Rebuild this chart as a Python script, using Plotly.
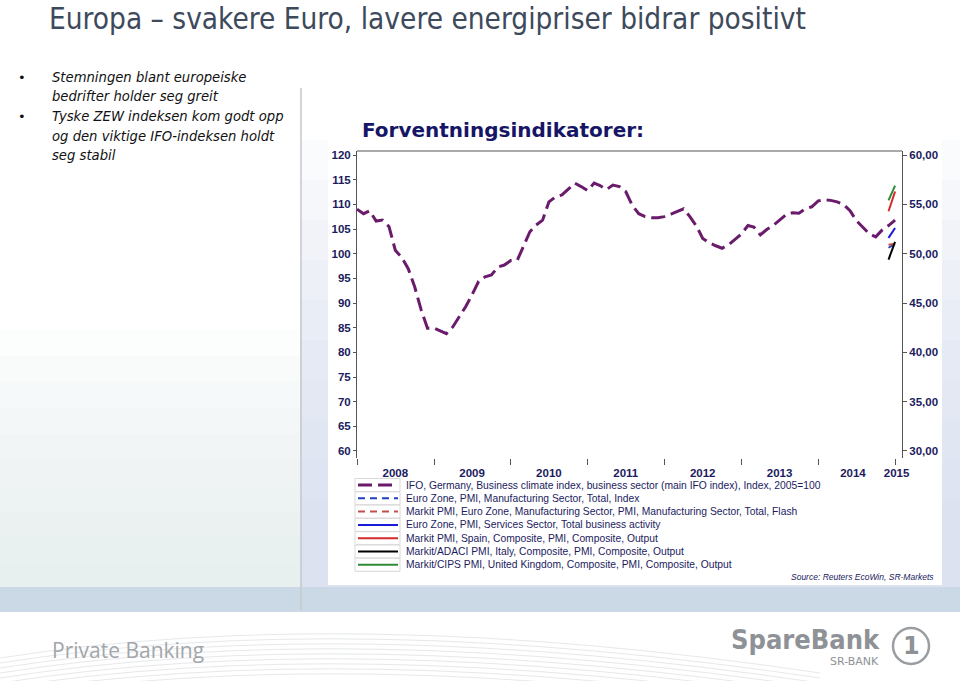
import pandas as pd
import plotly.graph_objects as go

# IFO business climate, monthly Jan 2008 - Jan 2015 (left axis)
ifo_start = "2008-01-01"
ifo_values = [
    109.0, 108.1, 108.7, 106.6, 106.8, 105.5, 100.7, 99.2, 96.9, 93.3, 88.6, 84.9,
    84.9, 84.4, 83.8, 85.2, 87.2, 89.3, 91.7, 94.4, 95.3, 95.7, 97.3, 97.7,
    98.6, 98.7, 101.4, 104.4, 105.8, 106.8, 110.5, 111.5, 111.9, 113.1, 114.3, 113.6,
    112.8, 114.3, 113.8, 113.0, 113.9, 113.6, 112.6, 109.8, 108.1, 107.5, 107.3, 107.3,
    107.5, 108.0, 108.6, 109.1, 107.5, 105.6, 103.1, 102.2, 101.6, 101.1, 101.8, 102.8,
    104.0, 105.7, 105.4, 103.8, 104.9, 105.7, 106.8, 107.9, 108.3, 108.2, 109.1, 109.5,
    110.7, 110.9, 110.8, 110.5, 110.0, 108.7, 106.7, 105.4, 104.0, 103.4, 104.8, 105.7,
    106.8,
]

# PMI readings, Dec 2014 and Jan 2015 (right axis)
pmi_dates = ["2014-12-01", "2015-01-01"]
ez_manufacturing = [50.6, 51.0]
ez_manufacturing_flash = [50.9, 51.0]
ez_services = [51.6, 52.6]
spain_composite = [54.3, 56.3]
italy_composite = [49.4, 51.2]
uk_composite = [55.4, 56.9]

series_names = [
    "IFO, Germany, Business climate index, business sector (main IFO index), Index, 2005=100",
    "Euro Zone, PMI, Manufacturing Sector, Total, Index",
    "Markit PMI, Euro Zone, Manufacturing Sector, PMI, Manufacturing Sector, Total, Flash",
    "Euro Zone, PMI, Services Sector, Total business activity",
    "Markit PMI, Spain, Composite, PMI, Composite, Output",
    "Markit/ADACI PMI, Italy, Composite, PMI, Composite, Output",
    "Markit/CIPS PMI, United Kingdom, Composite, PMI, Composite, Output",
]

year_labels = ["2008", "2009", "2010", "2011", "2012", "2013", "2014", "2015"]
year_label_dates = ["2008-07-01", "2009-07-01", "2010-07-01", "2011-07-01",
                    "2012-07-01", "2013-07-01", "2014-06-15", "2015-01-08"]
left_ticks = list(range(60, 121, 5))
grid_ticks = list(range(65, 116, 5))
right_ticks = list(range(30, 61, 5))

NAVY = "#1b1b5e"
ARIAL = "Liberation Sans, Arial, sans-serif"
VERDANA = "DejaVu Sans, Verdana, sans-serif"

# plot area in page pixels
L, R, T, B = 357, 902, 151, 458
Y_RANGE = [58.58, 120.81]
Y2_RANGE = [(v - 60) / 2 + 30 for v in Y_RANGE]


def px(x):
    return (x - L) / (R - L)


def py(y):
    return (B - y) / (B - T)


ifo_dates = pd.date_range(ifo_start, periods=len(ifo_values), freq="MS")

styles = [
    dict(color="#6b1b6b", width=3, dash="14px,6px"),
    dict(color="#2040c0", width=2, dash="7px,5px"),
    dict(color="#c0504d", width=2, dash="7px,5px"),
    dict(color="#1a1adb", width=2, dash="solid"),
    dict(color="#d42a2a", width=2, dash="solid"),
    dict(color="#000000", width=2, dash="solid"),
    dict(color="#2e8b35", width=2, dash="solid"),
]

fig = go.Figure()
fig.add_trace(go.Scatter(x=ifo_dates, y=ifo_values, mode="lines", name=series_names[0],
                         line=styles[0], yaxis="y", showlegend=False))
pmi_series = [ez_manufacturing, ez_manufacturing_flash, ez_services,
              spain_composite, italy_composite, uk_composite]
for i, vals in enumerate(pmi_series, start=1):
    fig.add_trace(go.Scatter(x=pmi_dates, y=vals, mode="lines", name=series_names[i],
                             line=styles[i], yaxis="y2", showlegend=False))

shapes = []
annotations = []

# soft backgrounds
for k in range(10):
    y0 = 330 + k * 26
    shapes.append(dict(type="rect", xref="paper", yref="paper", layer="below",
                       x0=px(0), x1=px(300), y0=py(588), y1=py(y0),
                       fillcolor="#d6e1ea", opacity=0.08, line_width=0))
for k in range(10):
    y0 = 140 + k * 40
    shapes.append(dict(type="rect", xref="paper", yref="paper", layer="below",
                       x0=px(300), x1=px(960), y0=py(588), y1=py(y0),
                       fillcolor="#cfdce7", opacity=0.1, line_width=0))
shapes.append(dict(type="rect", xref="paper", yref="paper", layer="below",
                   x0=px(0), x1=px(960), y0=py(612), y1=py(587),
                   fillcolor="#cad9e5", line_width=0))
shapes.append(dict(type="rect", xref="paper", yref="paper", layer="below",
                   x0=px(328), x1=px(942), y0=py(585), y1=py(105),
                   fillcolor="white", line_width=0))
shapes.append(dict(type="line", xref="paper", yref="paper", layer="below",
                   x0=px(301), x1=px(301), y0=py(88), y1=py(610),
                   line=dict(color="#c4c8cc", width=1.5)))
# top frame
shapes.append(dict(type="line", xref="paper", yref="paper",
                   x0=0, x1=1, y0=1, y1=1, line=dict(color="#555555", width=1)))

# footer swooshes
for k in range(9):
    a = 628 + k * 5
    shapes.append(dict(type="path", xref="paper", yref="paper", layer="below",
                       path=f"M {px(0)},{py(a + 30)} Q {px(350)},{py(a - 25)} {px(820)},{py(a + 45)}",
                       line=dict(color="#e6e8ea", width=1)))

# legend
for i, name in enumerate(series_names):
    yc = 485 + i * 13.3
    shapes.append(dict(type="rect", xref="paper", yref="paper", layer="below",
                       x0=px(355), x1=px(400), y0=py(yc + 6.5), y1=py(yc - 6.5),
                       line=dict(color="#d8d8d8", width=1), fillcolor="white"))
    shapes.append(dict(type="line", xref="paper", yref="paper",
                       x0=px(358), x1=px(398), y0=py(yc), y1=py(yc),
                       line=dict(color=styles[i]["color"], width=styles[i]["width"],
                                 dash=styles[i]["dash"])))
    annotations.append(dict(text=name, x=px(404), y=py(yc), xref="paper", yref="paper",
                            xanchor="left", yanchor="middle", showarrow=False,
                            font=dict(family=ARIAL, size=10.3, color=NAVY)))

annotations.append(dict(text="Source: Reuters EcoWin, SR-Markets", x=px(936), y=py(577),
                        xref="paper", yref="paper", xanchor="right", yanchor="middle",
                        showarrow=False,
                        font=dict(family=ARIAL, size=8.5, color=NAVY, style="italic")))

annotations.append(dict(text="<b>Forventningsindikatorer:</b>", x=px(360), y=py(130),
                        xref="paper", yref="paper", xanchor="left", yanchor="middle",
                        showarrow=False,
                        font=dict(family=VERDANA, size=20, color="#161666")))

annotations.append(dict(text="Europa – svakere Euro, lavere energipriser bidrar positivt",
                        x=px(47), y=py(19), xref="paper", yref="paper",
                        xanchor="left", yanchor="middle", showarrow=False,
                        font=dict(family="DejaVu Sans Condensed, DejaVu Sans, sans-serif",
                                  size=29.5, color="#3d4a5b")))

bullets = [
    (78, "Stemningen blant europeiske", True),
    (97, "bedrifter holder seg greit", False),
    (117, "Tyske ZEW indeksen kom godt opp", True),
    (136, "og den viktige IFO-indeksen holdt", False),
    (155, "seg stabil", False),
]
for yb, line, dot in bullets:
    annotations.append(dict(text=line, x=px(50), y=py(yb), xref="paper", yref="paper",
                            xanchor="left", yanchor="middle", showarrow=False,
                            font=dict(family=VERDANA, size=13.2,
                                      color="#111111", style="italic")))
    if dot:
        annotations.append(dict(text="•", x=px(22), y=py(yb), xref="paper", yref="paper",
                                xanchor="center", yanchor="middle", showarrow=False,
                                font=dict(family=VERDANA, size=13, color="#111111")))

# footer branding
annotations.append(dict(text="Private Banking", x=px(50), y=py(650), xref="paper", yref="paper",
                        xanchor="left", yanchor="middle", showarrow=False,
                        font=dict(family="Open Sans, sans-serif", size=21, color="#a2a6aa")))
annotations.append(dict(text="<b>SpareBank</b>", x=px(882), y=py(639), xref="paper", yref="paper",
                        xanchor="right", yanchor="middle", showarrow=False,
                        font=dict(family="DejaVu Sans Condensed, DejaVu Sans, sans-serif",
                                  size=27, color="#8e9296")))
annotations.append(dict(text="SR-BANK", x=px(881), y=py(661), xref="paper", yref="paper",
                        xanchor="right", yanchor="middle", showarrow=False,
                        font=dict(family=VERDANA, size=11, color="#8e9296")))
shapes.append(dict(type="circle", xref="paper", yref="paper",
                   x0=px(893), x1=px(929), y0=py(664), y1=py(628),
                   line=dict(color="#9a9ea2", width=2.5)))
annotations.append(dict(text="<b>1</b>", x=px(911), y=py(646), xref="paper", yref="paper",
                        xanchor="center", yanchor="middle", showarrow=False,
                        font=dict(family=VERDANA, size=24, color="#8e9296")))

tickfont = dict(family=ARIAL, size=11.5, color=NAVY, weight="bold")

fig.update_layout(
    width=960, height=681,
    margin=dict(l=L, r=960 - R, t=T, b=681 - B),
    paper_bgcolor="white", plot_bgcolor="white",
    separators=", ",
    showlegend=False,
    shapes=shapes,
    annotations=annotations,
    xaxis=dict(type="date", range=["2008-01-01", "2015-02-03"],
               showgrid=False, showline=False, zeroline=False,
               tickmode="array", tickvals=year_label_dates, ticktext=year_labels,
               ticks="", tickfont=tickfont, ticklabelstandoff=6,
               minor=dict(ticks="outside", ticklen=6, tickcolor="#555555",
                          tick0="2008-01-01", dtick="M12", showgrid=False)),
    yaxis=dict(range=Y_RANGE, tickmode="array", tickvals=left_ticks,
               showgrid=False, zeroline=False, showline=True, linecolor="#555555",
               ticks="outside", ticklen=3, tickcolor="#555555", tickfont=tickfont),
    yaxis2=dict(range=Y2_RANGE, overlaying="y", side="right", tickmode="array",
                tickvals=right_ticks, tickformat=".2f", showgrid=False, zeroline=False,
                showline=True, linecolor="#555555", ticks="outside", ticklen=4,
                tickcolor="#555555", tickfont=tickfont),
    yaxis3=dict(range=Y_RANGE, overlaying="y", tickmode="array", tickvals=grid_ticks,
                showgrid=True, gridcolor="#c6c6c6", griddash="dot", gridwidth=1,
                showticklabels=False, ticks="", showline=False, zeroline=False),
)

fig.write_html("out.html", config={"displayModeBar": False},
               post_script="document.body.style.margin='0';")
